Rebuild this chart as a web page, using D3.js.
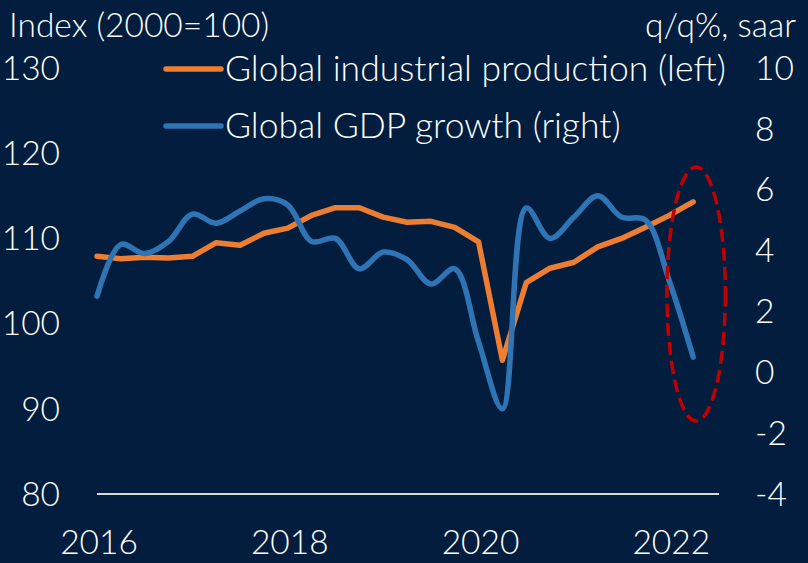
<!DOCTYPE html>
<html>
<head>
<meta charset="utf-8">
<script src="https://cdn.jsdelivr.net/npm/d3@7"></script>
<style>
  html, body { margin: 0; padding: 0; background: #021d3d; }
  svg text { font-family: Lato, "Liberation Sans", sans-serif; font-weight: 300; fill: #ffffff; }
</style>
</head>
<body>
<svg id="chart" width="808" height="563"></svg>
<script>
// quarterly, 2016Q1 .. 2022Q2
var quarters = d3.range(26);
var industrialProduction = [107.9, 107.6, 107.8, 107.7, 107.9, 109.5, 109.2, 110.6, 111.2, 112.7,
  113.6, 113.6, 112.5, 111.9, 112.0, 111.3, 109.6, 95.7, 104.8, 106.5,
  107.2, 109.0, 110.0, 111.3, 112.7, 114.3];
var gdpGrowth = [2.5, 4.2, 3.9, 4.3, 5.2, 4.9, 5.3, 5.7, 5.5, 4.3,
  4.4, 3.4, 3.95, 3.7, 2.9, 3.4, 1.0, -1.2, 5.4, 4.4,
  5.1, 5.8, 5.1, 5.0, 3.0, 0.5];
var yearTicks = [0, 8, 16, 24];
var yearLabels = ['2016', '2018', '2020', '2022'];
var leftTicks = [80, 90, 100, 110, 120, 130];
var rightTicks = [-4, -2, 0, 2, 4, 6, 8, 10];
var seriesNames = ['Global industrial production (left)', 'Global GDP growth (right)'];
var seriesColors = ['#ed7d31', '#2f75b5'];

var svg = d3.select('#chart');
var fontSize = 33.5;

var x = d3.scaleLinear().domain([0, 26]).range([97, 717]);
var yLeft = d3.scaleLinear().domain([80, 130]).range([494, 68]);
var yRight = d3.scaleLinear().domain([-4, 10]).range([494, 68]);

// axis titles
svg.append('text')
  .attr('x', 9).attr('y', 37)
  .style('font-size', fontSize + 'px')
  .text('Index (2000=100)');
svg.append('text')
  .attr('x', 796).attr('y', 37)
  .attr('text-anchor', 'end')
  .style('font-size', fontSize + 'px')
  .text('q/q%, saar');

// left tick labels
svg.selectAll('.ltick').data(leftTicks).enter().append('text')
  .attr('class', 'ltick')
  .attr('x', 60)
  .attr('y', d => yLeft(d))
  .attr('dy', '0.35em')
  .attr('text-anchor', 'end')
  .style('font-size', fontSize + 'px')
  .text(d => d);

// right tick labels
svg.selectAll('.rtick').data(rightTicks).enter().append('text')
  .attr('class', 'rtick')
  .attr('x', 755)
  .attr('y', d => yRight(d))
  .attr('dy', '0.35em')
  .style('font-size', fontSize + 'px')
  .text(d => d);

// x labels
svg.selectAll('.xtick').data(yearTicks).enter().append('text')
  .attr('class', 'xtick')
  .attr('x', d => x(d) + 2)
  .attr('y', 554)
  .attr('text-anchor', 'middle')
  .style('font-size', fontSize + 'px')
  .text((d, i) => yearLabels[i]);

// baseline
svg.append('line')
  .attr('x1', x(0)).attr('x2', 719)
  .attr('y1', yLeft(80)).attr('y2', yLeft(80))
  .attr('stroke', '#d9d9d9')
  .attr('stroke-width', 2);

// series
var ipLine = d3.line()
  .x((d, i) => x(quarters[i]))
  .y(d => yLeft(d));
var gdpLine = d3.line()
  .x((d, i) => x(quarters[i]))
  .y(d => yRight(d))
  .curve(d3.curveCatmullRom.alpha(0.5));

svg.append('path')
  .attr('d', ipLine(industrialProduction))
  .attr('fill', 'none')
  .attr('stroke', seriesColors[0])
  .attr('stroke-width', 5.5)
  .attr('stroke-linejoin', 'round')
  .attr('stroke-linecap', 'round');
svg.append('path')
  .attr('d', gdpLine(gdpGrowth))
  .attr('fill', 'none')
  .attr('stroke', seriesColors[1])
  .attr('stroke-width', 5.5)
  .attr('stroke-linejoin', 'round')
  .attr('stroke-linecap', 'round');

// dashed ellipse highlighting the latest quarter
var ex0 = x(23.9), ex1 = x(26.35);
var ey0 = yRight(6.75), ey1 = yRight(-1.6);
svg.append('ellipse')
  .attr('cx', (ex0 + ex1) / 2)
  .attr('cy', (ey0 + ey1) / 2)
  .attr('rx', (ex1 - ex0) / 2)
  .attr('ry', (ey1 - ey0) / 2)
  .attr('fill', 'none')
  .attr('stroke', '#c00000')
  .attr('stroke-width', 3.5)
  .attr('stroke-dasharray', '13,6');

// legend
var legend = svg.selectAll('.legend').data(seriesNames).enter().append('g')
  .attr('class', 'legend')
  .attr('transform', (d, i) => 'translate(166,' + (69 + i * 57) + ')');
legend.append('line')
  .attr('x1', 0).attr('x2', 55)
  .attr('stroke', (d, i) => seriesColors[i])
  .attr('stroke-width', 5.5)
  .attr('stroke-linecap', 'round');
legend.append('text')
  .attr('x', 59).attr('y', 12)
  .style('font-size', '35.5px')
  .text(d => d);
</script>
</body>
</html>
